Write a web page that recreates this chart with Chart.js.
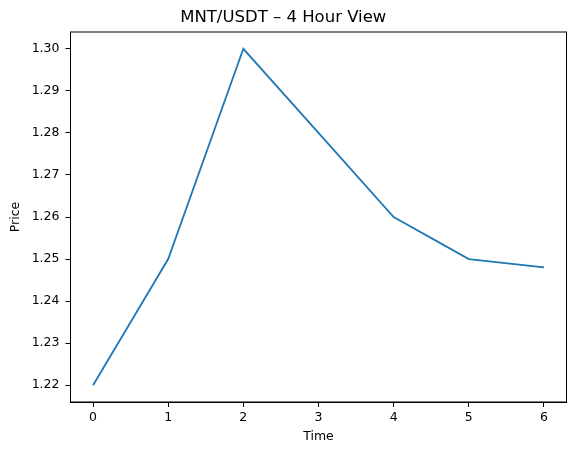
<!DOCTYPE html>
<html>
<head>
<meta charset="utf-8">
<script src="https://cdn.jsdelivr.net/npm/chart.js@4"></script>
<style>
  html, body { margin: 0; padding: 0; background: #fff; }
  #wrap { width: 576px; height: 455px; }
</style>
</head>
<body>
<div id="wrap"><canvas id="priceChart" width="576" height="455"></canvas></div>
<script>
// hours since start
const timeSteps = [0, 1, 2, 3, 4, 5, 6];
const prices = [1.22, 1.25, 1.30, 1.28, 1.26, 1.25, 1.248];
const chartTitle = 'MNT/USDT – 4 Hour View';

Chart.defaults.font.family = 'DejaVu Sans';
Chart.defaults.color = '#000';

// matplotlib style closed box around the plot
const boxPlugin = {
    id: 'box',
    afterDraw(chart) {
        const a = chart.chartArea;
        const c = chart.ctx;
        c.save();
        c.strokeStyle = '#000';
        c.lineWidth = 1;
        c.strokeRect(a.left, a.top, a.right - a.left, a.bottom - a.top);
        c.restore();
    }
};

const ctx = document.getElementById('priceChart');
const myChart = new Chart(ctx, {
    type: 'line',
    data: {
        datasets: [{
            label: 'Price',
            data: timeSteps.map((t, i) => ({ x: t, y: prices[i] })),
            borderColor: '#1f77b4',
            borderWidth: 1.8,
            pointRadius: 0,
            tension: 0,
            fill: false
        }]
    },
    options: {
        responsive: false,
        animation: false,
        layout: { padding: { left: 0, right: 9.5, top: 0, bottom: 0 } },
        plugins: {
            legend: { display: false },
            tooltip: { enabled: false },
            title: {
                display: true,
                text: chartTitle,
                font: { size: 16.5, weight: 'normal' },
                color: '#000',
                padding: { top: 8, bottom: 4.2 }
            }
        },
        scales: {
            x: {
                type: 'linear',
                min: -0.3,
                max: 6.3,
                afterFit(scale) { scale.height = 53; },
                afterBuildTicks(scale) { scale.ticks = timeSteps.map(v => ({ value: v })); },
                grid: { display: true, drawOnChartArea: false, drawTicks: true, tickLength: 5, color: '#000' },
                border: { display: true, color: '#000' },
                ticks: { font: { size: 12.5 }, padding: 3, maxRotation: 0 },
                title: { display: true, text: 'Time', font: { size: 12.5 }, padding: { top: 4, bottom: 10.5 } }
            },
            y: {
                type: 'linear',
                min: 1.216,
                max: 1.304,
                afterFit(scale) { scale.width = 70.5; },
                afterBuildTicks(scale) {
                    const t = [];
                    for (let i = 0; i <= 8; i++) t.push({ value: 1.22 + i * 0.01 });
                    scale.ticks = t;
                },
                grid: { display: true, drawOnChartArea: false, drawTicks: true, tickLength: 5, color: '#000' },
                border: { display: true, color: '#000' },
                ticks: { font: { size: 12.5 }, padding: 6, callback: v => v.toFixed(2) },
                title: { display: true, text: 'Price', font: { size: 12.5 }, padding: { top: 8.5, bottom: 4 } }
            }
        }
    },
    plugins: [boxPlugin]
});
</script>
</body>
</html>
